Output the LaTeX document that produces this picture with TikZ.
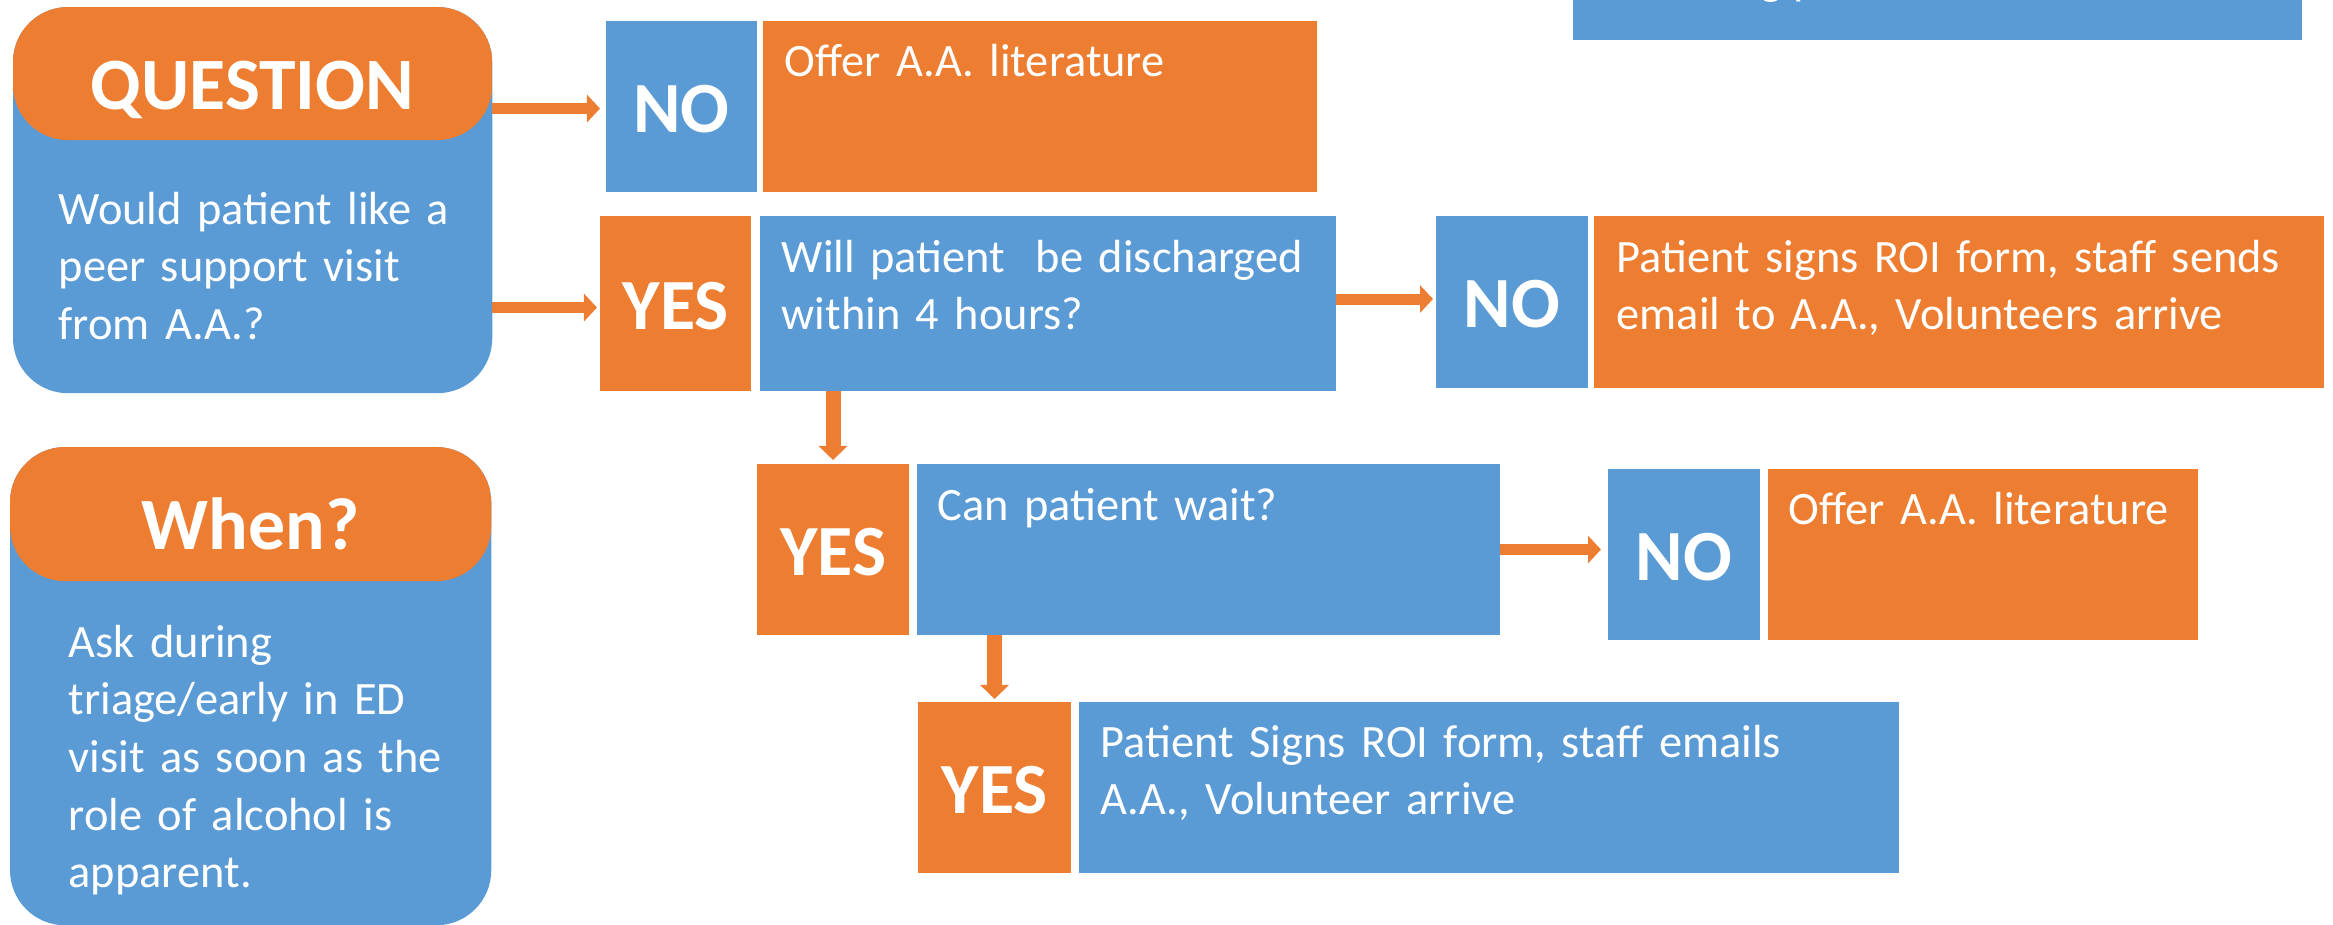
\documentclass[tikz,border=0pt]{standalone}
\usepackage{fontspec}
\setmainfont{Carlito}
\usetikzlibrary{arrows.meta,calc}
\definecolor{boxorange}{HTML}{ED7D31}
\definecolor{boxblue}{HTML}{5B9BD5}
\begin{document}
\begin{tikzpicture}[x=0.01cm, y=-0.01cm,
  panel/.style={inner sep=0pt, outer sep=0pt, anchor=north west},
  bluebox/.style={panel, fill=boxblue},
  orangebox/.style={panel, fill=boxorange},
  btext/.style={text=white, font=\fontsize{13.2}{16.4}\selectfont, inner sep=0pt, align=left, anchor=base west},
  lbl/.style={text=white, font=\bfseries\fontsize{20.5}{24}\selectfont, inner sep=0pt},
  headtext/.style={text=white, font=\bfseries\fontsize{21}{25}\selectfont, inner sep=0pt, anchor=base},
  harrow/.style={draw=boxorange, fill=boxorange, line width=0.11cm, -{Triangle[length=0.13cm, width=0.27cm]}},
  varrow/.style={draw=boxorange, fill=boxorange, line width=0.15cm, -{Triangle[length=0.14cm, width=0.28cm]}}
]
\useasboundingbox (0,0) rectangle (2333,924);

% ---- rounded info panels on the left ----
\node[panel, fill=boxblue, rounded corners=0.55cm, minimum width=4.79cm, minimum height=3.86cm,
  path picture={\fill[boxorange] (path picture bounding box.north west) rectangle ([yshift=-1.33cm]path picture bounding box.north east);}]
  (q) at (13,7) {};
\node[headtext] (qhead) at (252.5,110) {QUESTION};
\node[btext, text width=4.3cm] (qbody) at (58,224) {Would patient like a\\peer support visit\\from A.A.?};

\node[panel, fill=boxblue, rounded corners=0.55cm, minimum width=4.81cm, minimum height=4.78cm,
  path picture={\fill[boxorange] (path picture bounding box.north west) rectangle ([yshift=-1.34cm]path picture bounding box.north east);}]
  (w) at (10,447) {};
\node[headtext] (whead) at (250.5,549) {When?};
\node[btext, text width=4.2cm] (wbody) at (68,657) {Ask during\\triage/early in ED\\visit as soon as the\\role of alcohol is\\apparent.};

% ---- panel cut off at the top edge ----
\node[bluebox, minimum width=7.29cm, minimum height=0.50cm] (top) at (1573,-10) {};
\begin{scope}
  \clip (top.north west) rectangle (top.south east);
  \node[btext] (topfrag) at (1760,-5) {g p};
\end{scope}

% ---- first decision row ----
\node[bluebox, minimum width=1.51cm, minimum height=1.71cm] (no1) at (606,21) {};
\node[lbl] at ([yshift=-0.025cm]no1.center) {NO};
\node[orangebox, minimum width=5.54cm, minimum height=1.71cm] (off1) at (763,21) {};
\node[btext, text width=5.2cm] (off1t) at (784,76) {Offer A.A. literature};

\node[orangebox, minimum width=1.51cm, minimum height=1.75cm] (yes1) at (600,216) {};
\node[lbl] at ([yshift=-0.025cm]yes1.center) {YES};
\node[bluebox, minimum width=5.76cm, minimum height=1.75cm] (will) at (760,216) {};
\node[btext, text width=5.4cm] (willt) at (781,272) {Will patient\ \ be discharged\\within 4 hours?};

\node[bluebox, minimum width=1.52cm, minimum height=1.72cm] (no2) at (1436,216) {};
\node[lbl] at ([yshift=-0.025cm]no2.center) {NO};
\node[orangebox, minimum width=7.30cm, minimum height=1.72cm] (sig) at (1594,216) {};
\node[btext, text width=7.0cm] (sigt) at (1616,272) {Patient signs ROI form, staff sends\\email to A.A., Volunteers arrive};

% ---- second decision row ----
\node[orangebox, minimum width=1.52cm, minimum height=1.71cm] (yes2) at (757,464) {};
\node[lbl] at ([yshift=-0.025cm]yes2.center) {YES};
\node[bluebox, minimum width=5.83cm, minimum height=1.71cm] (can) at (917,464) {};
\node[btext, text width=5.5cm] (cant) at (937,520) {Can patient wait?};

\node[bluebox, minimum width=1.52cm, minimum height=1.71cm] (no3) at (1608,469) {};
\node[lbl] at ([yshift=-0.025cm]no3.center) {NO};
\node[orangebox, minimum width=4.30cm, minimum height=1.71cm] (off2) at (1768,469) {};
\node[btext, text width=4.0cm] (off2t) at (1788,524) {Offer A.A. literature};

% ---- final outcome ----
\node[orangebox, minimum width=1.53cm, minimum height=1.71cm] (yes3) at (918,702) {};
\node[lbl] at ([yshift=-0.025cm]yes3.center) {YES};
\node[bluebox, minimum width=8.20cm, minimum height=1.71cm] (fin) at (1079,702) {};
\node[btext, text width=7.9cm] (fint) at (1100,757) {Patient Signs ROI form, staff emails\\A.A., Volunteer arrive};

% ---- connectors ----
\draw[harrow, shorten >=0.06cm] ($(q.east |- no1.west)+(0,2)$) -- ($(no1.west)+(0,2)$);
\draw[harrow, shorten >=0.03cm] ($(q.east |- yes1.west)+(0,4)$) -- ($(yes1.west)+(0,4)$);
\draw[harrow, shorten >=0.03cm] ($(will.east |- no2.west)+(0,-3)$) -- ($(no2.west)+(0,-3)$);
\draw[harrow, shorten >=0.07cm] (can.east) -- (can.east -| no3.west);
\draw[varrow, shorten >=0.04cm] (will.south -| yes2.north) -- (yes2.north);
\draw[varrow, shorten >=0.03cm] (can.south -| yes3.north) -- (yes3.north);
\end{tikzpicture}
\end{document}
